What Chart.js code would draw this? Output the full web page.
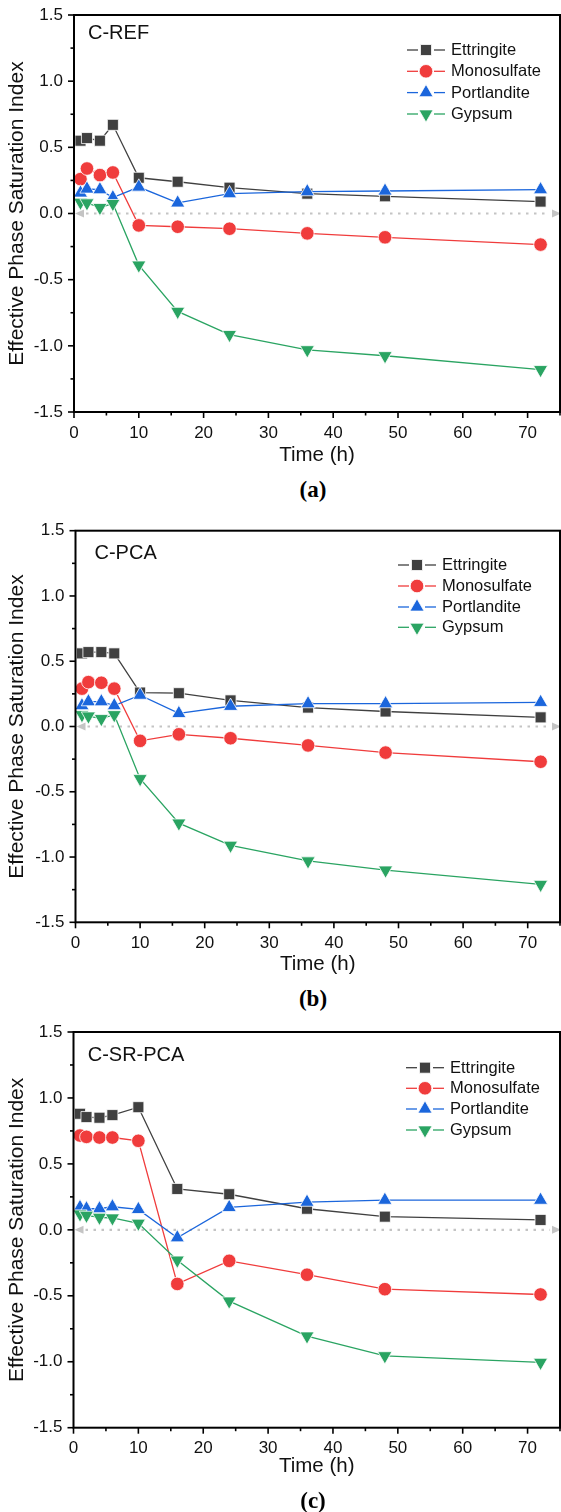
<!DOCTYPE html>
<html>
<head>
<meta charset="utf-8">
<script src="https://cdn.jsdelivr.net/npm/chart.js@4.4.0/dist/chart.umd.min.js"></script>
<style>
  html, body { margin: 0; padding: 0; background: #fff; }
  body { width: 561px; height: 1512px; position: relative; overflow: hidden; }
  .panel { position: absolute; left: 0; width: 561px; height: 470px; }
  .panel canvas { display: block; }
  .cap { position: absolute; width: 100px; text-align: center; font: bold 23px "Liberation Serif", "Times New Roman", serif; color: #000; line-height: 26px; }
</style>
</head>
<body>
<div class="panel" style="top:0px"><canvas id="chartA" width="561" height="470"></canvas></div>
<div class="cap" style="left:263px; top:477px">(a)</div>
<div class="panel" style="top:510px"><canvas id="chartB" width="561" height="470"></canvas></div>
<div class="cap" style="left:263px; top:986px">(b)</div>
<div class="panel" style="top:1020px"><canvas id="chartC" width="561" height="470"></canvas></div>
<div class="cap" style="left:263px; top:1488px">(c)</div>

<script>
// Sampling times (h)
const times = [1, 2, 4, 6, 10, 16, 24, 36, 48, 72];
const phaseNames = ['Ettringite', 'Monosulfate', 'Portlandite', 'Gypsum'];

// C-REF
const refEttringite  = [0.55, 0.57, 0.55, 0.67, 0.27, 0.24, 0.195, 0.15, 0.13, 0.09];
const refMonosulfate = [0.26, 0.34, 0.29, 0.31, -0.09, -0.10, -0.115, -0.15, -0.18, -0.235];
const refPortlandite = [0.155, 0.185, 0.18, 0.12, 0.20, 0.08, 0.15, 0.165, 0.17, 0.18];
const refGypsum      = [0.085, 0.08, 0.045, 0.075, -0.39, -0.74, -0.915, -1.03, -1.075, -1.18];

// C-PCA
const pcaEttringite  = [0.56, 0.57, 0.57, 0.56, 0.26, 0.255, 0.20, 0.145, 0.115, 0.07];
const pcaMonosulfate = [0.29, 0.34, 0.335, 0.29, -0.11, -0.06, -0.09, -0.145, -0.20, -0.27];
const pcaPortlandite = [0.16, 0.19, 0.19, 0.16, 0.24, 0.10, 0.155, 0.175, 0.175, 0.185];
const pcaGypsum      = [0.09, 0.08, 0.06, 0.09, -0.40, -0.74, -0.91, -1.03, -1.10, -1.21];

// C-SR-PCA
const srEttringite  = [0.88, 0.855, 0.85, 0.87, 0.93, 0.31, 0.27, 0.16, 0.10, 0.075];
const srMonosulfate = [0.715, 0.705, 0.70, 0.70, 0.675, -0.41, -0.235, -0.34, -0.45, -0.49];
const srPortlandite = [0.17, 0.16, 0.16, 0.175, 0.155, -0.06, 0.17, 0.21, 0.225, 0.225];
const srGypsum      = [0.12, 0.11, 0.095, 0.09, 0.05, -0.23, -0.54, -0.805, -0.955, -1.005];

// Axis ranges
const xRange = [0, 75];
const yRange = [-1.5, 1.5];

const FONT = '"Liberation Sans", Arial, sans-serif';

const seriesStyle = [
  { color: '#404040', pointStyle: 'rect',     radius: 7.8, rotation: 0 },
  { color: '#f03c3c', pointStyle: 'circle',   radius: 6.8, rotation: 0 },
  { color: '#1b66dc', pointStyle: 'triangle', radius: 8.2, rotation: 0 },
  { color: '#2aa462', pointStyle: 'triangle', radius: 8.2, rotation: 180 }
];

function line(ctx, x1, y1, x2, y2) {
  ctx.beginPath(); ctx.moveTo(x1, y1); ctx.lineTo(x2, y2); ctx.stroke();
}

// Frame, outward ticks, dotted zero reference with arrowheads, inset legend and sample name
const decorPlugin = {
  id: 'decor',
  beforeDatasetsDraw(chart, args, opts) {
    const ctx = chart.ctx, xs = chart.scales.x, ys = chart.scales.y;
    const y0 = ys.getPixelForValue(0);
    const xl = xs.getPixelForValue(xs.min), xr = xs.getPixelForValue(xs.max);
    ctx.save();
    ctx.strokeStyle = '#c4c4c4';
    ctx.lineWidth = 2.2;
    ctx.setLineDash([2.5, 5.5]);
    line(ctx, xl + 12, y0, xr - 10, y0);
    ctx.setLineDash([]);
    ctx.fillStyle = '#c4c4c4';
    ctx.beginPath(); ctx.moveTo(xl + 1, y0); ctx.lineTo(xl + 10, y0 - 4); ctx.lineTo(xl + 10, y0 + 4); ctx.closePath(); ctx.fill();
    ctx.beginPath(); ctx.moveTo(xr + 1, y0); ctx.lineTo(xr - 8, y0 - 4); ctx.lineTo(xr - 8, y0 + 4); ctx.closePath(); ctx.fill();
    ctx.restore();
  },
  afterDraw(chart, args, opts) {
    const ctx = chart.ctx, a = chart.chartArea, xs = chart.scales.x, ys = chart.scales.y;
    ctx.save();
    ctx.strokeStyle = '#000';
    ctx.lineWidth = 1.6;
    xs.ticks.forEach(t => {
      const px = xs.getPixelForValue(t.value);
      const len = (t.value % 10 === 0) ? 6 : 3.5;
      line(ctx, px, a.bottom, px, a.bottom + len);
    });
    ys.ticks.forEach(t => {
      const py = ys.getPixelForValue(t.value);
      const major = Math.abs(t.value * 2 - Math.round(t.value * 2)) < 1e-6;
      const len = major ? 6 : 3.5;
      line(ctx, a.left - len, py, a.left, py);
    });
    ctx.lineWidth = 2;
    ctx.strokeRect(a.left, a.top, a.right - a.left, a.bottom - a.top);

    // sample name
    ctx.fillStyle = '#111';
    ctx.font = '20px ' + FONT;
    ctx.textBaseline = 'middle';
    ctx.textAlign = 'left';
    ctx.fillText(opts.name, opts.nameX, opts.nameY);

    // legend
    ctx.font = '16.5px ' + FONT;
    phaseNames.forEach((n, i) => {
      const s = seriesStyle[i];
      const ly = opts.legendRows[i];
      const lx = opts.legendX;
      ctx.strokeStyle = s.color;
      ctx.lineWidth = 1.3;
      line(ctx, lx, ly, lx + 11, ly);
      line(ctx, lx + 27, ly, lx + 38, ly);
      ctx.fillStyle = s.color;
      ctx.strokeStyle = '#fff';
      ctx.lineWidth = 0.8;
      Chart.helpers.drawPoint(ctx, { pointStyle: s.pointStyle, radius: s.radius, rotation: s.rotation, borderWidth: 0.8 }, lx + 19, ly);
      ctx.fillStyle = '#111';
      ctx.fillText(n, lx + 44, ly + 0.5);
    });
    ctx.restore();
  }
};

function makeChart(id, series, layout) {
  const datasets = series.map((vals, i) => {
    const s = seriesStyle[i];
    return {
      label: phaseNames[i],
      data: times.map((t, k) => ({ x: t, y: vals[k] })),
      borderColor: s.color,
      backgroundColor: s.color,
      borderWidth: 1.3,
      pointStyle: s.pointStyle,
      pointRadius: s.radius,
      pointRotation: s.rotation,
      pointBackgroundColor: s.color,
      pointBorderColor: '#ffffff',
      pointBorderWidth: 0.8,
      tension: 0,
      clip: false,
      order: 3 - i
    };
  });

  return new Chart(document.getElementById(id), {
    type: 'line',
    data: { datasets },
    options: {
      responsive: false,
      animation: false,
      devicePixelRatio: 1,
      layout: { autoPadding: false, padding: { top: layout.top, right: 1, bottom: 0, left: 0 } },
      plugins: {
        legend: { display: false },
        tooltip: { enabled: false },
        decor: layout.decor
      },
      scales: {
        x: {
          type: 'linear',
          min: xRange[0], max: xRange[1],
          grid: { display: false, drawTicks: false },
          border: { display: false },
          ticks: {
            stepSize: 5, autoSkip: false, maxRotation: 0, padding: layout.xTickPad,
            color: '#111', font: { family: FONT, size: 17 },
            callback: v => (v % 10 === 0 && v <= 70) ? String(v) : ''
          },
          title: { display: true, text: 'Time (h)', color: '#111', font: { family: FONT, size: 20.5 }, padding: { top: 0, bottom: layout.xTitlePad } },
          afterFit: sc => { sc.height = layout.xHeight; sc.paddingLeft = 0; sc.paddingRight = 0; }
        },
        y: {
          type: 'linear',
          min: yRange[0], max: yRange[1],
          grid: { display: false, drawTicks: false },
          border: { display: false },
          ticks: {
            stepSize: 0.25, autoSkip: false, padding: 11,
            color: '#111', font: { family: FONT, size: 17 },
            callback: v => {
              const r = Math.round(v * 2);
              return Math.abs(v * 2 - r) < 1e-6 ? (r / 2).toFixed(1) : '';
            }
          },
          title: { display: true, text: 'Effective Phase Saturation Index', color: '#111', font: { family: FONT, size: 21 }, padding: { top: 4.4, bottom: 0 } },
          afterFit: sc => { sc.width = layout.yWidth; sc.paddingTop = 0; sc.paddingBottom = 0; }
        }
      }
    },
    plugins: [decorPlugin]
  });
}

makeChart('chartA', [refEttringite, refMonosulfate, refPortlandite, refGypsum], {
  top: 15, xHeight: 58, xTickPad: 11, xTitlePad: 2, yWidth: 74,
  decor: { name: 'C-REF', nameX: 88, nameY: 33.7, legendX: 407, legendRows: [50, 71.3, 92.6, 114] }
});
makeChart('chartB', [pcaEttringite, pcaMonosulfate, pcaPortlandite, pcaGypsum], {
  top: 20.7, xHeight: 57.7, xTickPad: 10.5, xTitlePad: 3, yWidth: 75.5,
  decor: { name: 'C-PCA', nameX: 94.5, nameY: 43.7, legendX: 398, legendRows: [55, 76, 97, 117.3] }
});
makeChart('chartC', [srEttringite, srMonosulfate, srPortlandite, srGypsum], {
  top: 12, xHeight: 62.3, xTickPad: 10.5, xTitlePad: 11, yWidth: 73.5,
  decor: { name: 'C-SR-PCA', nameX: 87.7, nameY: 35, legendX: 406, legendRows: [47.7, 68.3, 89, 110] }
});
</script>
</body>
</html>
